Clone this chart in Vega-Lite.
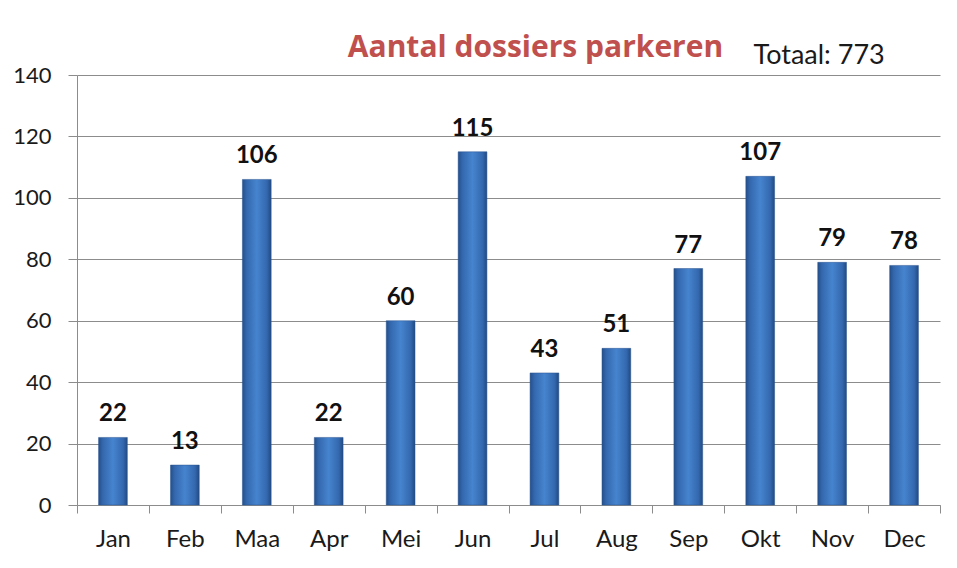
{
  "$schema": "https://vega.github.io/schema/vega-lite/v6.json",
  "width": 863,
  "height": 430,
  "autosize": {"type": "none"},
  "padding": {"left": 77, "top": 75, "right": 17, "bottom": 63},
  "background": "white",
  "title": {
    "text": "Aantal dossiers parkeren",
    "color": "#c0504d",
    "font": "Open Sans",
    "fontSize": 30,
    "fontWeight": "bold",
    "anchor": "middle",
    "baseline": "alphabetic",
    "dx": 27,
    "dy": 63,
    "offset": 17
  },
  "config": {
    "view": {"stroke": null},
    "axis": {"labelFont": "Lato", "titleFont": "Lato", "labelColor": "#1a1a1a", "titleColor": "#1a1a1a"}
  },
  "data": {
    "values": [
      {"maand": "Jan", "aantal": 22},
      {"maand": "Feb", "aantal": 13},
      {"maand": "Maa", "aantal": 106},
      {"maand": "Apr", "aantal": 22},
      {"maand": "Mei", "aantal": 60},
      {"maand": "Jun", "aantal": 115},
      {"maand": "Jul", "aantal": 43},
      {"maand": "Aug", "aantal": 51},
      {"maand": "Sep", "aantal": 77},
      {"maand": "Okt", "aantal": 107},
      {"maand": "Nov", "aantal": 79},
      {"maand": "Dec", "aantal": 78}
    ]
  },
  "encoding": {
    "x": {
      "field": "maand",
      "type": "nominal",
      "sort": null,
      "scale": {"paddingInner": 0, "paddingOuter": 0},
      "axis": {
        "title": null,
        "labelAngle": 0,
        "labelFontSize": 24,
        "labelPadding": 14,
        "tickBand": "extent",
        "tickSize": 8,
        "tickColor": "#8c8c8c",
        "domainColor": "#8c8c8c",
        "grid": false
      }
    },
    "y": {
      "field": "aantal",
      "type": "quantitative",
      "scale": {"domain": [0, 140], "nice": false},
      "axis": {
        "values": [0, 20, 40, 60, 80, 100, 120, 140],
        "grid": true,
        "gridColor": "#8c8c8c",
        "gridWidth": 1,
        "domainColor": "#8c8c8c",
        "tickColor": "#8c8c8c",
        "tickSize": 9,
        "labelFontSize": 22,
        "labelPadding": 17,
        "labelAlign": "right",
        "labelBaseline": "middle",
        "title": "Totaal: 773",
        "titleAngle": 0,
        "titleFontSize": 27,
        "titleFontWeight": "normal",
        "titleAlign": "left",
        "titleBaseline": "alphabetic",
        "titleX": 676,
        "titleY": -12
      }
    }
  },
  "layer": [
    {
      "mark": {
        "type": "bar",
        "width": {"band": 0.4},
        "fill": {
          "gradient": "linear",
          "x1": 0, "y1": 0, "x2": 1, "y2": 0,
          "stops": [
            {"offset": 0, "color": "#244f8a"},
            {"offset": 0.15, "color": "#3468ae"},
            {"offset": 0.5, "color": "#4684cf"},
            {"offset": 0.85, "color": "#3468ae"},
            {"offset": 1, "color": "#214a82"}
          ]
        },
        "stroke": "#2a5590",
        "strokeWidth": 0.5
      }
    },
    {
      "mark": {
        "type": "text",
        "baseline": "alphabetic",
        "dy": -16,
        "font": "Lato",
        "fontSize": 24,
        "fontWeight": "bold",
        "color": "#111111"
      },
      "encoding": {"text": {"field": "aantal", "type": "quantitative"}}
    }
  ]
}
